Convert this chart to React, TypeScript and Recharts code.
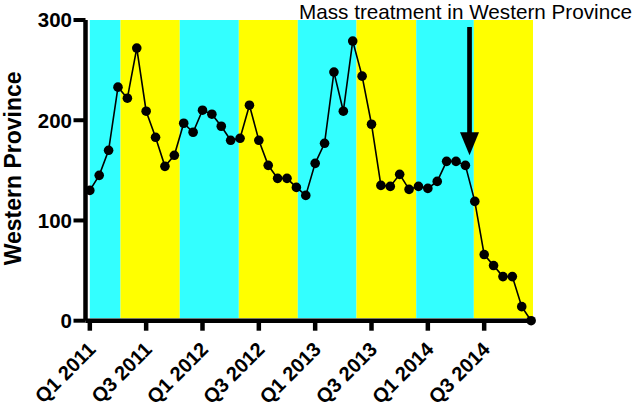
import { Label, Line, LineChart, ReferenceArea, ReferenceDot, ReferenceLine, XAxis, YAxis } from "recharts";

// monthly counts, Jan 2011 .. Dec 2014
const cases = [
    130, 145, 170, 233, 222, 272, 209, 183, 154, 165, 197, 188,
    210, 206, 194, 180, 182, 215, 180, 155, 142, 142, 133, 125,
    157, 177, 248, 209, 279, 244, 196, 135, 134, 146, 131, 134,
    132, 139, 159, 159, 155, 119, 66, 55, 44, 44, 14, 0,
];

const quarterTicks = [0, 6, 12, 18, 24, 30, 36, 42];
const quarterLabels = ["Q1 2011", "Q3 2011", "Q1 2012", "Q3 2012", "Q1 2013", "Q3 2013", "Q1 2014", "Q3 2014"];
const yTicks = [0, 100, 200, 300];

// shaded seasons, in month units
const bandEdges = [0, 3.27, 9.58, 15.87, 22.15, 28.4, 34.76, 40.9, 47.2];
const bandColors = ["#33ffff", "#ffff00"];

const treatmentMonth = 40.44;
const arrowTop = 293;
const arrowTip = 165;

const data = cases.map((v, i) => ({ month: i, cases: v }));

const font = "'Liberation Sans', Arial, Helvetica, sans-serif";

const XTick = ({ x, y, payload }: any) => {
    const label = quarterLabels[quarterTicks.indexOf(payload.value)];
    const tx = x + 7;
    const ty = y + 18;
    return (
        <text x={tx} y={ty} transform={`rotate(-45 ${tx} ${ty})`} textAnchor="end"
            fontSize={20} fontWeight="bold" fill="#000" fontFamily={font}>
            {label}
        </text>
    );
};

const YTick = ({ x, y, payload }: any) => (
    <text x={x} y={y} dy="0.36em" textAnchor="end" fontSize={20.5} fontWeight="bold" fill="#000" fontFamily={font}>
        {payload.value}
    </text>
);

const ArrowHead = ({ cx, cy }: any) => (
    <path d={`M${cx},${cy} L${cx - 9.5},${cy - 23} L${cx + 9.5},${cy - 23} Z`} fill="#000" />
);

export default function App() {
    return (
        <div style={{ position: "absolute", left: 0, top: 0, width: 633, height: 408, background: "#fff" }}>
            <div style={{ position: "absolute", left: 299, top: 0, fontFamily: font, fontSize: 20.7, color: "#000", whiteSpace: "nowrap" }}>
                Mass treatment in Western Province
            </div>
            <LineChart width={633} height={408} data={data} margin={{ top: 20, right: 100, left: 0, bottom: 0 }}>
                {bandEdges.slice(0, -1).map((edge, i) => (
                    <ReferenceArea key={i} x1={edge} x2={bandEdges[i + 1]} y1={2.5} y2={300}
                        fill={bandColors[i % 2]} fillOpacity={1} stroke="none" ifOverflow="visible" />
                ))}
                <XAxis
                    dataKey="month"
                    type="number"
                    domain={[-0.46, 47.2]}
                    ticks={quarterTicks}
                    interval={0}
                    height={87.3}
                    axisLine={{ stroke: "#000", strokeWidth: 4.5 }}
                    tickLine={{ stroke: "#000", strokeWidth: 4.5 }}
                    tickSize={10}
                    tick={<XTick />}
                />
                <YAxis
                    type="number"
                    domain={[0, 300]}
                    ticks={yTicks}
                    width={85.5}
                    axisLine={{ stroke: "#000", strokeWidth: 4.5 }}
                    tickLine={{ stroke: "#000", strokeWidth: 4 }}
                    tickSize={12}
                    tickMargin={1.5}
                    tick={<YTick />}
                >
                    <Label
                        content={({ viewBox }: any) => {
                            const cx = viewBox.x + 21;
                            const cy = viewBox.y + viewBox.height / 2 - 2;
                            return (
                                <text x={cx} y={cy} transform={`rotate(-90 ${cx} ${cy})`} textAnchor="middle"
                                    fontSize={23} fontWeight="bold" fill="#000" fontFamily={font}>
                                    Western Province
                                </text>
                            );
                        }}
                    />
                </YAxis>
                <ReferenceLine
                    segment={[{ x: treatmentMonth, y: arrowTop }, { x: treatmentMonth, y: arrowTip + 18 }]}
                    stroke="#000"
                    strokeWidth={4.7}
                    ifOverflow="visible"
                />
                <ReferenceDot x={treatmentMonth} y={arrowTip} r={1} shape={<ArrowHead />} ifOverflow="visible" />
                <Line
                    type="linear"
                    dataKey="cases"
                    stroke="#000"
                    strokeWidth={1.6}
                    dot={{ r: 4.8, fill: "#000", stroke: "#000", strokeWidth: 0 }}
                    isAnimationActive={false}
                />
            </LineChart>
        </div>
    );
}
